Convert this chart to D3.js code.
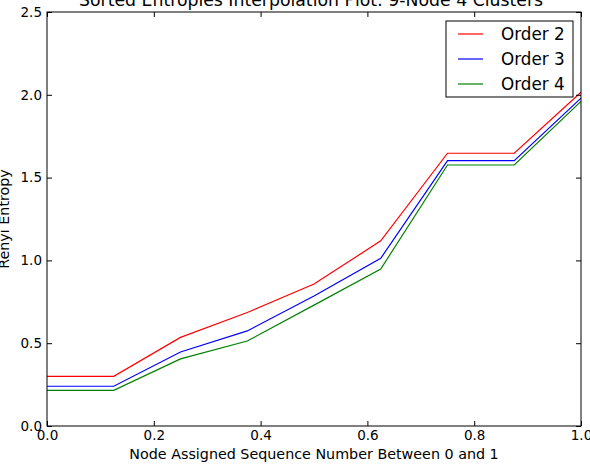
<!DOCTYPE html>
<html>
<head>
<meta charset="utf-8">
<script src="https://cdn.jsdelivr.net/npm/d3@7"></script>
<style>
  body { margin: 0; background: #fff; }
  text { font-family: "DejaVu Sans", sans-serif; }
</style>
</head>
<body>
<div id="chart"></div>
<script>
// data
var xValues = [0, 0.125, 0.25, 0.375, 0.5, 0.625, 0.75, 0.875, 1.0];
var order2 = [0.30, 0.30, 0.535, 0.685, 0.857, 1.118, 1.647, 1.647, 2.015];
var order3 = [0.24, 0.24, 0.447, 0.574, 0.785, 1.013, 1.602, 1.602, 1.98];
var order4 = [0.215, 0.215, 0.405, 0.513, 0.73, 0.948, 1.576, 1.576, 1.96];
var seriesNames = ['Order 2', 'Order 3', 'Order 4'];
var seriesColors = ['#ff0000', '#0000ff', '#008000'];
var xTicks = [0, 0.2, 0.4, 0.6, 0.8, 1.0];
var yTicks = [0, 0.5, 1.0, 1.5, 2.0, 2.5];

var width = 590, height = 466;
var margin = {top: 12, right: 9, bottom: 40, left: 47};

var svg = d3.select('#chart').append('svg')
    .attr('width', width)
    .attr('height', height);

var x = d3.scaleLinear().domain([0, 1]).range([margin.left, width - margin.right]);
var y = d3.scaleLinear().domain([0, 2.5]).range([height - margin.bottom, margin.top]);

//title (clipped at top like the original)
svg.append('text')
    .attr('x', 311)
    .attr('y', 5.5)
    .attr('text-anchor', 'middle')
    .style('font-size', '17.3px')
    .text('Sorted Entropies Interpolation Plot: 9-Node 4 Clusters');

//lines
var line = d3.line()
    .x(function(d, i) { return x(xValues[i]); })
    .y(function(d) { return y(d); });

[order2, order3, order4].forEach(function(s, i) {
    svg.append('path')
        .datum(s)
        .attr('fill', 'none')
        .attr('stroke', seriesColors[i])
        .attr('stroke-width', 1.2)
        .attr('d', line);
});

//axes with inward ticks, mirrored on top/right
function styleAxis(g) {
    g.select('.domain').remove();
    g.selectAll('.tick line').attr('stroke', '#000');
    g.selectAll('.tick text').style('font-size', '13.5px').attr('fill', '#000');
}

svg.append('g')
    .attr('transform', 'translate(0,' + (height - margin.bottom) + ')')
    .call(d3.axisBottom(x).tickValues(xTicks).tickFormat(d3.format('.1f')).tickSizeInner(-5).tickPadding(4))
    .call(styleAxis);

svg.append('g')
    .attr('transform', 'translate(0,' + margin.top + ')')
    .call(d3.axisTop(x).tickValues(xTicks).tickFormat('').tickSizeInner(-5))
    .call(styleAxis);

svg.append('g')
    .attr('transform', 'translate(' + margin.left + ',0)')
    .call(d3.axisLeft(y).tickValues(yTicks).tickFormat(d3.format('.1f')).tickSizeInner(-5).tickPadding(5))
    .call(styleAxis);

svg.append('g')
    .attr('transform', 'translate(' + (width - margin.right) + ',0)')
    .call(d3.axisRight(y).tickValues(yTicks).tickFormat('').tickSizeInner(-5))
    .call(styleAxis);

//frame
svg.append('rect')
    .attr('x', margin.left)
    .attr('y', margin.top)
    .attr('width', width - margin.left - margin.right)
    .attr('height', height - margin.top - margin.bottom)
    .attr('fill', 'none')
    .attr('stroke', '#000')
    .attr('stroke-width', 1);

//axis labels
svg.append('text')
    .attr('x', (margin.left + width - margin.right) / 2)
    .attr('y', 459)
    .attr('text-anchor', 'middle')
    .style('font-size', '14.3px')
    .text('Node Assigned Sequence Number Between 0 and 1');

svg.append('text')
    .attr('transform', 'translate(9,' + ((margin.top + height - margin.bottom) / 2) + ') rotate(-90)')
    .attr('text-anchor', 'middle')
    .style('font-size', '14.3px')
    .text('Renyi Entropy');

//legend
var legend = svg.append('g').attr('transform', 'translate(446,21)');
legend.append('rect')
    .attr('width', 127)
    .attr('height', 76)
    .attr('fill', '#fff')
    .attr('stroke', '#000');

seriesNames.forEach(function(name, i) {
    var row = legend.append('g').attr('transform', 'translate(0,' + (13 + i * 25) + ')');
    row.append('line')
        .attr('x1', 12).attr('x2', 37)
        .attr('stroke', seriesColors[i])
        .attr('stroke-width', 1.2);
    row.append('text')
        .attr('x', 55)
        .attr('dy', '0.35em')
        .style('font-size', '16.8px')
        .text(name);
});
</script>
</body>
</html>
